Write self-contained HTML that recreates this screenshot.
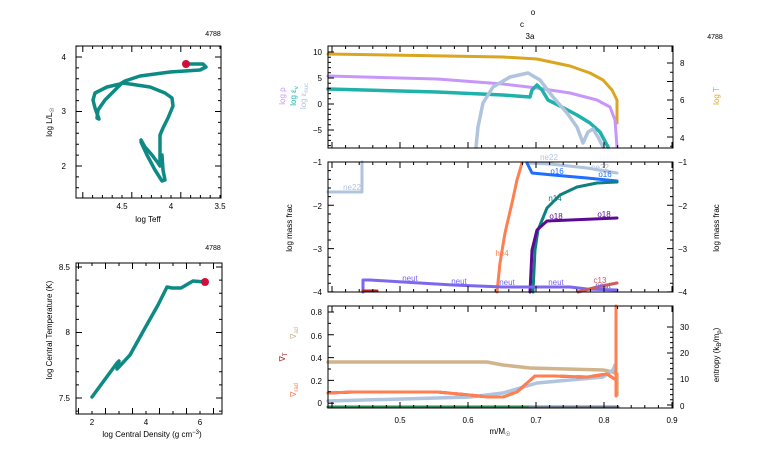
<!DOCTYPE html>
<html><head><meta charset="utf-8"><style>
html,body{margin:0;padding:0;background:#fff;}
svg{display:block;font-family:"Liberation Sans",sans-serif;}
</style></head><body>
<svg id="s" width="766" height="460" viewBox="0 0 766 460" xmlns="http://www.w3.org/2000/svg">
<rect width="766" height="460" fill="#fff"/>
<g fill="none" stroke-linejoin="round" stroke-linecap="round">
<!-- HR -->
<polyline stroke="#0e8a84" stroke-width="3.5" points="141,140 145,147 152,155 158,163 160,166 160,150 160,135 163,128 168,118 173,106 172,98 165,93 150,87 130,84 122,83 115,90 105,100 98,110 97,118 99,119 95,108 93,100 95,93 107,87 120,84 125,81 140,76 170,72 200,70 206,67 203,64 186,64"/>
<polyline stroke="#0e8a84" stroke-width="3.5" points="141,142 147,155 155,170 162,181 165,180 163,170 162,155"/>
<!-- rho-T -->
<polyline stroke="#0e8a84" stroke-width="3.5" points="92,397 117,363 119,361 117,369 130,355 145,328 158,305 167,287 172,288 181,288 193,281 205,282"/>
<!-- top panel -->
<polyline stroke="#daa520" stroke-width="3" points="328,54 503,57 537,59 570,66 590,73 603,80 612,90 617,100 617,123"/>
<polyline stroke="#c896f8" stroke-width="3" points="328,76 437,79 503,84 537,88 570,93 597,100 610,107 615,120 617,147"/>
<polyline stroke="#20b2aa" stroke-width="3.5" points="328,89 437,92 503,95 530,97 532,90 537,85 542,90 548,100 560,106 577,115 590,123 600,132 608,147"/>
<polyline stroke="#b0c4de" stroke-width="3.5" points="476,147 478,127 483,103 493,87 510,77 528,73 540,80 553,97 567,113 577,127 583,143 588,132 593,129 598,137 603,147"/>
<!-- middle -->
<polyline stroke="#b0c4de" stroke-width="3" points="328,192 362,192 362,162"/>
<polyline stroke="#b0c4de" stroke-width="3" points="527,163 550,164 587,168 617,173"/>
<polyline stroke="#1e6fff" stroke-width="3" points="527,163 532,173 553,175 587,178 617,181"/>
<polyline stroke="#0f8080" stroke-width="3" points="533,292 535,250 538,230 547,208 560,195 577,187 597,183 617,182"/>
<polyline stroke="#5b0a91" stroke-width="3" points="530,292 532,250 537,230 547,221 570,220 617,218"/>
<polyline stroke="#ff7f50" stroke-width="3" points="497,292 500,263 505,233 512,203 517,180 522,163"/>
<polyline stroke="#7b68ee" stroke-width="3" points="363,292 363,280 370,280 403,282 453,285 503,287 570,287 587,289 617,290"/>
<polyline stroke="#cd5c5c" stroke-width="3" points="578,292 597,287 617,283"/>
<polyline stroke="#b22222" stroke-width="3" points="363,291 377,291"/>
<!-- bottom -->
<polyline stroke="#2e8b57" stroke-width="3" points="328,407 530,407"/>
<polyline stroke="#708090" stroke-width="3" points="530,407 618,407"/>
<polyline stroke="#d2b48c" stroke-width="3.5" points="328,362 487,362 503,365 530,368 603,370 613,372 617,374 617,395"/>
<polyline stroke="#b0c4de" stroke-width="3.5" points="328,401 403,399 470,397 503,393 537,383 570,380 603,377 613,370 615,365"/>
<polyline stroke="#b22222" stroke-width="3" stroke-dasharray="10,6" points="328,393 353,392 437,392 470,395 487,397 503,397 517,392 527,383 535,376 553,376 587,377 607,374 613,378"/>
<polyline stroke="#ff7f50" stroke-width="3" points="328,393 353,392 437,392 470,395 487,397 503,397 517,392 527,383 535,376 553,376 587,377 607,374 613,378 616,380"/>
<polyline stroke="#ff7f50" stroke-width="3" points="616,306 616,396"/>
</g>
<circle cx="186" cy="64" r="4" fill="#d0103a"/>
<circle cx="205" cy="282" r="4" fill="#d0103a"/>
<g id="ax" stroke="#000" stroke-width="1" fill="none"></g>
<g font-size="8" fill="#000" text-anchor="middle">
<text x="213" y="36" font-size="7">4788</text>
<text x="213" y="250" font-size="7">4788</text>
<text x="715" y="39" font-size="7">4788</text>
<text x="533" y="15">o</text><text x="522" y="27">c</text><text x="530" y="39">3a</text>
<text x="122" y="209">4.5</text><text x="171" y="209">4</text><text x="220" y="209">3.5</text>
<text x="148" y="222">log Teff</text>
<text x="66" y="60" text-anchor="end">4</text><text x="66" y="114" text-anchor="end">3</text><text x="66" y="169" text-anchor="end">2</text>
<text transform="translate(52,122) rotate(-90)">log L/L<tspan font-size="6" dy="2">☉</tspan></text>
<text x="92" y="425">2</text><text x="146" y="425">4</text><text x="200" y="425">6</text>
<text x="152" y="437">log Central Density (g cm<tspan font-size="6" dy="-3">−3</tspan><tspan dy="3">)</tspan></text>
<text x="70" y="270" text-anchor="end">8.5</text><text x="70" y="335" text-anchor="end">8</text><text x="70" y="401" text-anchor="end">7.5</text>
<text transform="translate(52,330) rotate(-90)">log Central Temperature (K)</text>
<text x="322" y="55" text-anchor="end">10</text><text x="322" y="81" text-anchor="end">5</text><text x="322" y="107" text-anchor="end">0</text><text x="322" y="133" text-anchor="end">−5</text>
<text x="680" y="66" text-anchor="start">8</text><text x="680" y="103" text-anchor="start">6</text><text x="680" y="141" text-anchor="start">4</text>
<text transform="translate(285,96) rotate(-90)" fill="#c896f8">log ρ</text>
<text transform="translate(296,96) rotate(-90)" fill="#20b2aa">log ε<tspan font-size="6" dy="2">ν</tspan></text>
<text transform="translate(306,96) rotate(-90)" fill="#b0c4de">log ε<tspan font-size="6" dy="2">nuc</tspan></text>
<text transform="translate(719,96) rotate(-90)" fill="#daa520">log T</text>
<text x="549" y="160" fill="#b0c4de">ne22</text>
<text x="322" y="165" text-anchor="end">−1</text><text x="322" y="209" text-anchor="end">−2</text><text x="322" y="252" text-anchor="end">−3</text><text x="322" y="295" text-anchor="end">−4</text>
<text x="678" y="165" text-anchor="start">−1</text><text x="678" y="209" text-anchor="start">−2</text><text x="678" y="252" text-anchor="start">−3</text><text x="678" y="295" text-anchor="start">−4</text>
<text transform="translate(292,228) rotate(-90)">log mass frac</text>
<text transform="translate(719,228) rotate(-90)">log mass frac</text>
<text x="352" y="190" fill="#b0c4de">ne22</text><text x="600" y="170" fill="#b0c4de">ne22</text>
<text x="557" y="174" fill="#1e6fff">o16</text><text x="605" y="177" fill="#1e6fff">o16</text>
<text x="555" y="201" fill="#0f8080">n14</text>
<text x="556" y="219" fill="#5b0a91">o18</text><text x="604" y="217" fill="#5b0a91">o18</text>
<text x="502" y="256" fill="#ff7f50">he4</text>
<text x="600" y="283" fill="#cd5c5c">c13</text>
<g fill="#7b68ee"><text x="410" y="281">neut</text><text x="459" y="284">neut</text><text x="507" y="285">neut</text><text x="556" y="285">neut</text><text x="603" y="288">neut</text></g>
<text x="322" y="315" text-anchor="end">0.8</text><text x="322" y="339" text-anchor="end">0.6</text><text x="322" y="361" text-anchor="end">0.4</text><text x="322" y="384" text-anchor="end">0.2</text><text x="322" y="406" text-anchor="end">0</text>
<text x="680" y="330" text-anchor="start">30</text><text x="680" y="356" text-anchor="start">20</text><text x="680" y="382" text-anchor="start">10</text><text x="680" y="409" text-anchor="start">0</text>
<text x="400" y="423">0.5</text><text x="468" y="423">0.6</text><text x="536" y="423">0.7</text><text x="604" y="423">0.8</text><text x="672" y="423">0.9</text>
<text x="500" y="434">m/M<tspan font-size="6" dy="2">☉</tspan></text>
<text transform="translate(719,355) rotate(-90)">entropy (k<tspan font-size="6" dy="2">B</tspan><tspan dy="-2">/m</tspan><tspan font-size="6" dy="2">p</tspan><tspan dy="-2">)</tspan></text>
<text transform="translate(296,333) rotate(-90)" fill="#d2b48c">∇<tspan font-size="6" dy="2">ad</tspan></text>
<text transform="translate(285,357) rotate(-90)" fill="#b22222">∇<tspan font-size="6" dy="2">T</tspan></text>
<text transform="translate(296,390) rotate(-90)" fill="#ff7f50">∇<tspan font-size="6" dy="2">rad</tspan></text>
</g>
</svg>
<script>
var g=document.getElementById('ax'),d='';
function box(x0,y0,x1,y1){g.innerHTML+='<rect x="'+x0+'" y="'+y0+'" width="'+(x1-x0)+'" height="'+(y1-y0)+'"/>';}
function xt(x0,x1,y0,y1,st,major){for(var x=x0,i=0;x<=x1+0.1;x+=st,i++){var L=(i%major==0)?6:3;d+='M'+x+' '+y0+'v'+L+'M'+x+' '+y1+'v'+(-L);}}
function yt(y0,y1,x0,x1,st,major,both){for(var y=y0,i=0;y<=y1+0.1;y+=st,i++){var L=(i%major==0)?6:3;d+='M'+x0+' '+y+'h'+L;if(both)d+='M'+x1+' '+y+'h'+(-L);}}
box(76,46,221,198);xt(82.8,221,46,198,9.8,5);yt(57,198,76,221,10.9,5,true);
d+='M76 46.1h3M221 46.1h-3';
box(76,263,222,414);xt(78.5,222,263,414,13.5,2);yt(267,414,76,222,13.1,5,true);
box(328,46,673,148);box(328,162,673,292);box(328,306,673,408);
[[46,148],[162,292],[306,408]].forEach(function(p){xt(332,673,p[0],p[1],13.6,5);});
yt(52,148,328,673,5.2,5,false);
for(var y=63;y<=148;y+=9.25){d+='M673 '+y+'h-'+(((y-63)/9.25)%2<0.1?6:3);}
yt(162,292,328,673,8.66,5,true);
yt(312,408,328,673,11.4,2,false);
for(var y=327;y<=408;y+=5.2){d+='M673 '+y+'h-'+((Math.round((y-327)/5.2)%5==0)?6:3);}
g.innerHTML+='<path d="'+d+'"/>';
</script>
</body></html>
